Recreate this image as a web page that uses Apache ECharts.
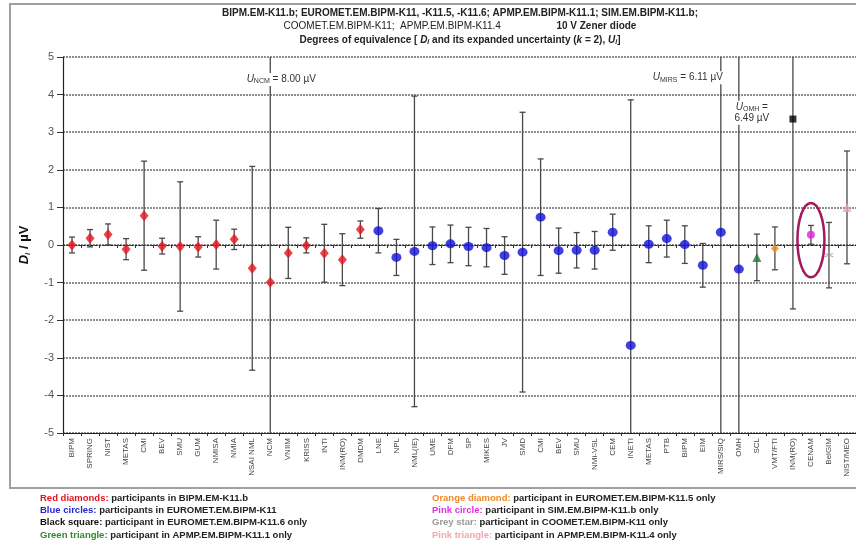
<!DOCTYPE html>
<html><head><meta charset="utf-8">
<script src="https://cdn.jsdelivr.net/npm/echarts@6/dist/echarts.min.js"></script>
<style>html,body{margin:0;padding:0;background:#fff}#c{width:856px;height:544px}</style>
</head><body><div id="c"></div>
<script>
// ---------- data ----------
const categories = ['BIPM','SPRING','NIST','METAS','CMI','BEV','SMU','GUM','NMISA','NMIA','NSAI NML','NCM','VNIIM','KRISS','INTI','INM(RO)','DMDM',
  'LNE','NPL','NML(IE)','UME','DFM','SP','MIKES','JV','SMD','CMI','BEV','SMU','NMi-VSL','CEM','INETI','METAS','PTB','BIPM','EIM','MIRS/SIQ','OMH',
  'SCL','VMT/FTI','INM(RO)','CENAM','BelGIM','NIST/MEO'];
const values = [0.00,0.18,0.28,-0.11,0.78,-0.03,-0.04,-0.05,0.01,0.15,-0.62,-0.99,-0.21,-0.01,-0.22,-0.39,0.41,
  0.38,-0.33,-0.17,-0.02,0.03,-0.04,-0.07,-0.28,-0.19,0.74,-0.15,-0.14,-0.14,0.34,-2.67,0.02,0.17,0.01,-0.54,0.34,-0.64,
  -0.33,-0.09,3.35,0.27,-0.27,1.00];
const uncertainties = [0.21,0.23,0.28,0.28,1.45,0.21,1.72,0.27,0.65,0.27,2.71,8.00,0.68,0.20,0.77,0.69,0.23,
  0.59,0.48,4.13,0.50,0.50,0.51,0.51,0.50,3.72,1.55,0.60,0.47,0.50,0.48,6.53,0.49,0.49,0.50,0.58,6.11,6.49,
  0.62,0.57,5.05,0.25,0.87,1.50];
const markerTypes = ['red','red','red','red','red','red','red','red','red','red','red','red','red','red','red','red','red',
  'blue','blue','blue','blue','blue','blue','blue','blue','blue','blue','blue','blue','blue','blue','blue','blue','blue','blue','blue','blue','blue',
  'green','orange','black','pink','grey','pinktri'];
const yTickValues = [-5,-4,-3,-2,-1,0,1,2,3,4,5];

const titleLines = [
  'BIPM.EM-K11.b; EUROMET.EM.BIPM-K11, -K11.5, -K11.6; APMP.EM.BIPM-K11.1; SIM.EM.BIPM-K11.b;',
  '{r|COOMET.EM.BIPM-K11;  APMP.EM.BIPM-K11.4}{b|                    10 V Zener diode}',
  'Degrees of equivalence [ {i|D}{s|i} and its expanded uncertainty ({i|k} = 2), {i|U}{s|i}]'
];
const legendKeys = ['Red diamonds:','Blue circles:','Black square:','Green triangle:','Orange diamond:','Pink circle:','Grey star:','Pink triangle:'];
const legendTexts = [' participants in BIPM.EM-K11.b',' participants in EUROMET.EM.BIPM-K11',' participant in EUROMET.EM.BIPM-K11.6 only',' participant in APMP.EM.BIPM-K11.1 only',
  ' participant in EUROMET.EM.BIPM-K11.5 only',' participant in SIM.EM.BIPM-K11.b only',' participant in COOMET.EM.BIPM-K11 only',' participant in APMP.EM.BIPM-K11.4 only'];
const annoCats = [11, 36, 37];
const annoVals = [4.40, 4.45, 3.52];
const annoTexts = ['{i|U}{s|NCM} = 8.00 µV','{i|U}{s|MIRS} = 6.11 µV','{i|U}{s|OMH} =\n6.49 µV'];

// ---------- styles ----------
const markerStyle = {
  red:{symbol:'diamond',size:[9,11],color:'#e3141e'},
  blue:{symbol:'circle',size:[10,9],color:'#1010d8'},
  black:{symbol:'rect',size:7,color:'#000'},
  green:{symbol:'triangle',size:9,color:'#1f7a2e'},
  orange:{symbol:'diamond',size:[8,9],color:'#f08a24'},
  pink:{symbol:'circle',size:8,color:'#e020e0'},
  grey:{symbol:'path://M4.5,0 L5.5,0 L5.5,3.8 L9,2.5 L9.3,3.4 L6,4.8 L9.3,6.3 L9,7.2 L5.5,5.9 L5.5,10 L4.5,10 L4.5,5.9 L1,7.2 L0.7,6.3 L4,4.8 L0.7,3.4 L1,2.5 L4.5,3.8 Z',size:9,color:'#999'},
  pinktri:{symbol:'triangle',size:9,color:'#f0a4a8'}
};
const legendColors = ['#e3141e','#2424d0','#111','#2e8b2e','#f08a24','#e030e0','#999','#f2a6b0'];
const FONT = "'Liberation Sans', Arial, sans-serif";
const NARROW = "'Liberation Sans Narrow', 'Liberation Sans', Arial, sans-serif";

const chart = echarts.init(document.getElementById('c'));

const errData = categories.map((c, i) => [i, values[i] - uncertainties[i], values[i] + uncertainties[i]]);
function renderErr(params, api) {
  const x = api.value(0);
  const lo = api.coord([x, api.value(1)]);
  const hi = api.coord([x, api.value(2)]);
  const w = 3;
  const style = {stroke: '#484848', lineWidth: 1.3};
  return {type: 'group', children: [
    {type: 'line', shape: {x1: lo[0], y1: lo[1], x2: hi[0], y2: hi[1]}, style},
    {type: 'line', shape: {x1: lo[0] - w, y1: lo[1], x2: lo[0] + w, y2: lo[1]}, style},
    {type: 'line', shape: {x1: hi[0] - w, y1: hi[1], x2: hi[0] + w, y2: hi[1]}, style}
  ]};
}

const typeOrder = ['red','blue','green','orange','black','pink','grey','pinktri'];
const markerSeries = typeOrder.map(t => ({
  type: 'scatter', xAxisIndex: 0, yAxisIndex: 0, z: 5,
  symbol: markerStyle[t].symbol, symbolSize: markerStyle[t].size,
  itemStyle: {color: markerStyle[t].color},
  data: categories.map((c, i) => markerTypes[i] === t ? [i, values[i]] : null).filter(d => d)
}));

const option = {
  animation: false,
  backgroundColor: '#fff',
  grid: {left: 63, top: 57, width: 801, height: 376, containLabel: false},
  xAxis: [{
    type: 'category', data: categories, position: 'bottom', boundaryGap: true,
    axisLine: {onZero: false, lineStyle: {color: '#222', width: 1.2}},
    axisTick: {show: true, interval: 0, length: 3, lineStyle: {color: '#333'}},
    axisLabel: {interval: 0, rotate: 90, fontSize: 8, color: '#444', margin: 5, fontFamily: NARROW},
    splitLine: {show: false}
  }, {
    type: 'category', data: categories, boundaryGap: true,
    axisLine: {onZero: true, lineStyle: {color: '#222', width: 1.2, type: [2, 2]}},
    axisTick: {show: true, interval: 0, length: 3, inside: true, lineStyle: {color: '#333'}},
    axisLabel: {show: false}, splitLine: {show: false}
  }],
  yAxis: {
    type: 'value', min: -5, max: 5, interval: 1,
    name: '{d|D}{s|i}{n| / µV}', nameLocation: 'middle', nameGap: 31, nameRotate: 90,
    nameTextStyle: {rich: {
      d: {fontSize: 13, fontWeight: 'bold', fontStyle: 'italic', fontFamily: FONT, color: '#111'},
      s: {fontSize: 8, fontWeight: 'bold', fontStyle: 'italic', fontFamily: FONT, color: '#111', padding: [7, 0, 0, 0]},
      n: {fontSize: 13, fontWeight: 'bold', fontFamily: FONT, color: '#111'}
    }},
    axisLine: {show: true, lineStyle: {color: '#222', width: 1.2}},
    axisTick: {show: true, length: 6, lineStyle: {color: '#333'}},
    axisLabel: {fontSize: 11, color: '#555', margin: 9, fontFamily: FONT},
    splitLine: {show: true, lineStyle: {color: '#6a6a6a', width: 1.6, type: [2, 1]}}
  },
  series: [{
    type: 'custom', xAxisIndex: 0, yAxisIndex: 0, z: 3, clip: true,
    renderItem: renderErr, encode: {x: 0, y: [1, 2]}, data: errData
  }].concat(markerSeries)
};
chart.setOption(option);

// ---------- graphic overlays (positions derived from chart scales) ----------
const graphics = [];
graphics.push({type: 'rect', z: -1, silent: true, shape: {x: 10, y: 4, width: 880, height: 484},
  style: {fill: 'none', stroke: '#a0a0a0', lineWidth: 2}});
const titleRich = {
  r: {font: '10px ' + FONT, fill: '#222'},
  b: {font: 'bold 10px ' + FONT, fill: '#222'},
  i: {font: 'italic bold 10px ' + FONT, fill: '#222'},
  s: {font: 'italic bold 7px ' + FONT, fill: '#222', padding: [5, 0, 0, 0]}
};
const titleY = [13, 26.5, 40];
titleLines.forEach((t, k) => {
  graphics.push({type: 'text', x: 460, y: titleY[k], z: 10, silent: true,
    style: {text: t, font: 'bold 10px ' + FONT, fill: '#222', align: 'center', verticalAlign: 'middle', rich: titleRich}});
});
legendKeys.forEach((key, k) => {
  const col = Math.floor(k / 4), row = k % 4;
  graphics.push({type: 'text', x: col ? 432 : 40, y: 498 + row * 12.3, z: 10, silent: true,
    style: {text: '{k|' + key + '}{t|' + legendTexts[k] + '}', verticalAlign: 'middle', align: 'left',
      rich: {k: {font: 'bold 9.5px ' + NARROW, fill: legendColors[k]}, t: {font: 'bold 9.5px ' + NARROW, fill: '#222'}}}});
});
const annoOffsets = [11, 4, 13];
const annoAlign = ['center', 'right', 'center'];
annoCats.forEach((c, k) => {
  const p = chart.convertToPixel({gridIndex: 0}, [c, annoVals[k]]);
  graphics.push({type: 'text', x: p[0] + annoOffsets[k], y: p[1], z: 20, silent: true,
    style: {text: annoTexts[k], font: '10px ' + FONT, fill: '#333', align: annoAlign[k], verticalAlign: 'middle',
      backgroundColor: '#fff', padding: [1, 2], lineHeight: 11,
      rich: {i: {font: 'italic 10px ' + FONT, fill: '#333'}, s: {font: '7px ' + FONT, fill: '#333', padding: [4, 0, 0, 0]}}}});
});
// highlight ellipse around CENAM
const ec = chart.convertToPixel({gridIndex: 0}, [41, 0.13]);
const ey = chart.convertToPixel({gridIndex: 0}, [41, 1.13]);
const unit = ec[1] - ey[1];
graphics.push({type: 'ellipse', z: 15, silent: true, shape: {cx: ec[0], cy: ec[1], rx: 13.5, ry: unit * 0.99},
  style: {fill: 'none', stroke: '#a3175e', lineWidth: 2.5}});
chart.setOption({graphic: graphics});
</script></body></html>
